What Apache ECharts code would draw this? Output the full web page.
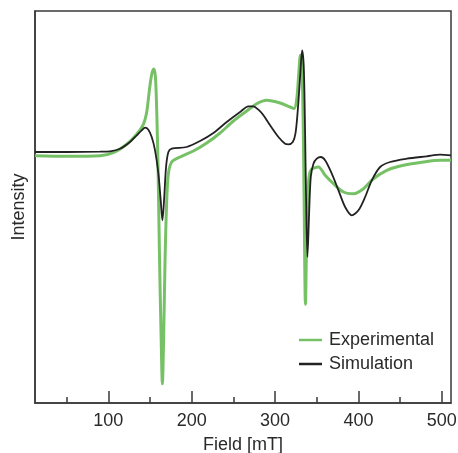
<!DOCTYPE html>
<html>
<head>
<meta charset="utf-8">
<script src="https://cdn.jsdelivr.net/npm/echarts@6/dist/echarts.min.js"></script>
<style>html,body{margin:0;padding:0;background:#fff}#c{width:458px;height:453px}</style>
</head>
<body>
<div id="c"></div>
<script>
// Field values (mT) and intensities (arbitrary units)
const simField = [12,50,90,102,114,126,134,140,144,148,152,156,160,162.8,164.8,166.8,169.2,172,176,194,210,226,242,258,268,274,280,286,294,304,312,316,321.2,324.4,327.2,330,332.4,334.4,336,337.2,338.8,340.8,342.8,346,350,354.8,360,368,376,384,392,400,408,416,426,438,458,482,498,511];
const simInt = [0,0,0.3,0.7,3.3,10,16.7,21.7,24.3,22.3,15,1.7,-21.7,-48.3,-68.3,-48.3,-15,0,3.3,5,11,19,30,40,45.7,45.7,42.3,36.7,26.7,15,8.3,7.7,10,18.3,41.7,75,101.7,85,18.3,-48.3,-105,-61.7,-25,-11.7,-6.7,-5,-8.3,-21.7,-38.3,-55,-63.3,-58.3,-45,-28.3,-15,-10,-6.7,-4.3,-2.7,-3.3];
const expField = [12,50,90,106,122,134,142,146,149.2,152,154.4,156.4,158,159.6,161.2,163.2,164.8,166.4,168,170,172,176,186,202,218,234,250,266,278,290,306,318,322.8,326,328.4,330.4,332,333.6,334.8,336.4,338,340,342.8,352,360,370,382,394,406,418,434,454,478,498,511];
const expInt = [-3.7,-4.3,-3.7,-0.7,7.7,17.7,27.7,40,61.7,77.7,83,75.7,41.7,-15,-98.3,-181.7,-231.7,-181.7,-108.3,-48.3,-21.7,-10,-5,1,9,19,31,41,48.3,51.7,49,45,43.3,53.3,78.3,96.7,90,35,-48.3,-152.3,-81.7,-31.7,-18.3,-15,-23.3,-31.7,-40,-41.7,-36.7,-26.7,-18.3,-13.3,-10,-8.3,-8.3];
const majorTicks = [100,200,300,400,500];
const minorTicks = [50,150,250,350,450];
const seriesNames = ['Experimental','Simulation'];

const font = '"Liberation Sans", Arial, Helvetica, sans-serif';
const zip = (a,b) => a.map((v,i)=>[v,b[i]]);
const chart = echarts.init(document.getElementById('c'), null, {renderer:'canvas'});
chart.setOption({
  animation:false,
  backgroundColor:'#fff',
  grid:{left:35,right:7,top:11,bottom:50,show:true,borderColor:'#3a3a3a',borderWidth:1.5,backgroundColor:'transparent',outerBoundsMode:'none',containLabel:false},
  legend:{
    orient:'vertical',left:294,top:326,itemWidth:23,itemHeight:2.5,itemGap:6,icon:'rect',
    data:seriesNames,
    textStyle:{fontFamily:font,fontSize:18,color:'#2a2a2a',padding:[0,0,0,2]}
  },
  xAxis:[{
    type:'value',min:12,max:511,position:'bottom',
    name:'Field [mT]',nameLocation:'middle',nameGap:33,
    nameTextStyle:{fontFamily:font,fontSize:18,color:'#2a2a2a'},
    axisLine:{show:true,onZero:false,lineStyle:{color:'#3a3a3a',width:1.5}},
    axisTick:{show:true,inside:true,length:12,customValues:majorTicks,lineStyle:{color:'#3a3a3a',width:1.5}},
    axisLabel:{show:true,customValues:majorTicks,margin:9,fontFamily:font,fontSize:18,color:'#2a2a2a'},
    splitLine:{show:false}
  },{
    type:'value',min:12,max:511,position:'bottom',
    axisLine:{show:false,onZero:false},
    axisTick:{show:true,inside:true,length:6,customValues:minorTicks,lineStyle:{color:'#3a3a3a',width:1.5}},
    axisLabel:{show:false},
    splitLine:{show:false}
  }],
  yAxis:{
    type:'value',min:-251,max:141,
    name:'Intensity',nameLocation:'middle',nameGap:7,nameRotate:90,
    nameTextStyle:{fontFamily:font,fontSize:18,color:'#2a2a2a'},
    axisLine:{show:true,onZero:false,lineStyle:{color:'#3a3a3a',width:1.5}},
    axisTick:{show:false},axisLabel:{show:false},splitLine:{show:false}
  },
  series:[
    {name:seriesNames[0],type:'line',data:zip(expField,expInt),showSymbol:false,symbol:'none',smooth:0.3,
     itemStyle:{color:'#76c166'},lineStyle:{color:'#76c166',width:3}},
    {name:seriesNames[1],type:'line',data:zip(simField,simInt),showSymbol:false,symbol:'none',smooth:0.3,
     itemStyle:{color:'#222'},lineStyle:{color:'#222',width:1.8}}
  ]
});
</script>
</body>
</html>
